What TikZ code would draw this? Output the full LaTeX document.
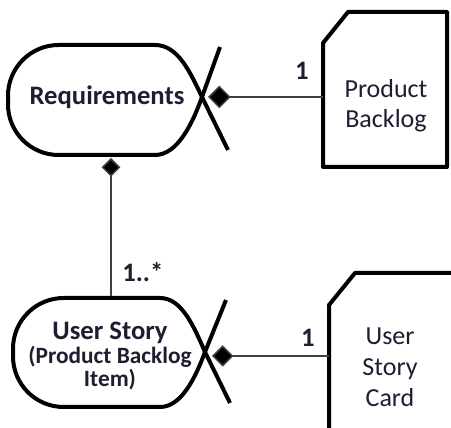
\documentclass[tikz,border=0pt]{standalone}
\usepackage{fontspec}
\setmainfont{Carlito}
\usetikzlibrary{arrows.meta}
\definecolor{txt}{HTML}{1E1E30}
\tikzset{
  outline/.style={draw=black, line width=3pt, line join=round},
  conn/.style={draw=black!75, line width=1.1pt},
  lbl/.style={text=txt, font=\bfseries\fontsize{20}{24}\selectfont, inner sep=0pt},
  boxtext/.style={text=txt, align=center, inner sep=0pt},
  dia/.style={{Diamond[length=#1, width=#1, fill=black]}-},
}
\begin{document}
\begin{tikzpicture}[x=0.75pt,y=-0.75pt]
\clip (0,0) rectangle (451,428);
\fill[white] (0,0) rectangle (451,428);

% Requirements shape
\draw[outline, rounded corners=38pt] (155,45) -- (8,45) -- (8,155) -- (155,155);
\draw[outline] (155,45) .. controls (178,45) and (190,72) .. (202,97) -- (228,150);
\draw[outline] (155,155) .. controls (178,155) and (193,122) .. (202,97) -- (220,47);
\node[lbl] (req) at (107,97) {Requirements};
\coordinate (reqR) at (208,97);
\coordinate (reqB) at (111,158);

% Product Backlog
\draw[outline] (323,43) -- (348,12) -- (447,12) -- (447,167) -- (323,167) -- cycle;
\node[boxtext, font=\fontsize{19.5}{22.5}\selectfont] (pb) at (386,106) {Product\\Backlog};
\coordinate (pbL) at (323,97);

% User Story shape
\draw[outline, rounded corners=38pt] (160,298) -- (13,298) -- (13,407) -- (160,407);
\draw[outline] (160,298) .. controls (182,298) and (194,327) .. (205,352) -- (230,403);
\draw[outline] (160,407) .. controls (182,407) and (196,376) .. (205,352) -- (226,300);
\node[boxtext, font=\bfseries] (us) at (110,356) {{\fontsize{20}{21}\selectfont User Story}\\[0.5pt]{\fontsize{17.5}{20.5}\selectfont (Product Backlog}\\{\fontsize{17.5}{20.5}\selectfont Item)}};
\coordinate (usR) at (212,356);
\coordinate (usT) at (111,296);

% User Story Card
\draw[outline] (329,305) -- (355,273) -- (470,273) -- (470,450) -- (329,450) -- cycle;
\node[boxtext, font=\fontsize{19.5}{23.3}\selectfont] (usc) at (390,367) {User\\Story\\Card};
\coordinate (uscL) at (329,356);

% Connectors
\draw[conn, dia=17pt] (reqR) -- (pbL);
\draw[conn, dia=14pt] (reqB) -- (usT);
\draw[conn, dia=16pt] (usR) -- (uscL);

% Multiplicities
\node[lbl, anchor=base] (m1) at (302,80) {1};
\node[lbl, anchor=base west] (m2) at (122,282) {1..*};
\node[lbl, anchor=base] (m3) at (308,347) {1};
\end{tikzpicture}
\end{document}
